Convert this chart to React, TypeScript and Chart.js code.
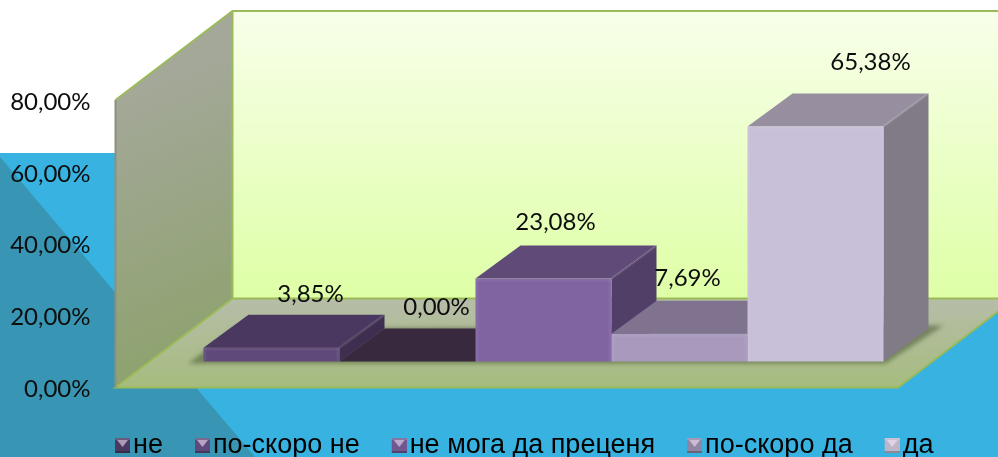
import React, { useEffect, useRef } from "react";
import { Chart, registerables } from "chart.js";

Chart.register(...registerables);

const categories = [""];
const seriesNames = ["не", "по-скоро не", "не мога да преценя", "по-скоро да", "да"];
const seriesValues = [3.85, 0, 23.08, 7.69, 65.38];
const yTicks = [0, 20, 40, 60, 80];
const frontColors = ["#5F497A", "#3F3151", "#8064A2", "#A899BD", "#C8BFD8"];
const topColors = ["#4A3860", "#39293F", "#5F4A78", "#7F7390", "#978F9F"];
const sideColors = ["#3E2E50", "#33253F", "#523F68", "#6F6580", "#817A87"];
const markerColors = ["#4A3860", "#5F497A", "#70578F", "#8F85A3", "#BDB5C8"];
const labelShiftX = [39, 29, 12, 8, 55];
const labelShiftY = [-53, -54, -56, -56, -64];

const fmt = (v: number) => v.toFixed(2).replace(".", ",") + "%";

const WALL_DX = 117, WALL_DY = -89;
const BAR_SHIFT_X = 36.75, BAR_SHIFT_Y = -26;
const DEPTH_X = 45, DEPTH_Y = -33;
const LINE = "#9BBB59";
const FONT_TXT = "Lato";
const LEGEND_SHIFT = 70;

function poly(ctx: CanvasRenderingContext2D, pts: number[][], fill?: any, stroke?: string, lw = 1) {
  ctx.beginPath();
  pts.forEach((p, i) => (i ? ctx.lineTo(p[0], p[1]) : ctx.moveTo(p[0], p[1])));
  ctx.closePath();
  if (fill) { ctx.fillStyle = fill; ctx.fill(); }
  if (stroke) { ctx.strokeStyle = stroke; ctx.lineWidth = lw; ctx.stroke(); }
}

function makeMarker(color: string) {
  const W = 36, S = 15;
  const c = document.createElement("canvas");
  c.width = W; c.height = S;
  const g = c.getContext("2d")!;
  const x0 = W - S;
  g.fillStyle = color;
  g.fillRect(x0, 0, S, S);
  g.fillStyle = "rgba(255,255,255,0.18)";
  g.fillRect(x0, 0, S, 2);
  g.fillStyle = "rgba(0,0,0,0.25)";
  g.fillRect(x0, S - 2, S, 2);
  g.beginPath();
  g.moveTo(x0 + 2, 2); g.lineTo(x0 + S - 2, 2); g.lineTo(x0 + S / 2, 9); g.closePath();
  g.fillStyle = "rgba(255,235,255,0.55)";
  g.fill();
  return c;
}

const scenePlugin = {
  id: "scene",
  afterLayout(chart: any) {
    chart.legend.left += LEGEND_SHIFT;
    chart.legend.right += LEGEND_SHIFT;
  },
  beforeDraw(chart: any) {
    const { ctx, width, height, chartArea: a } = chart;
    ctx.save();
    ctx.fillStyle = "#FFFFFF";
    ctx.fillRect(0, 0, width, height);
    ctx.fillStyle = "#38B2E0";
    ctx.fillRect(0, 153, width, height - 153);
    poly(ctx, [[0, 157], [255, 457], [0, 457]], "#3895B3");

    const L = a.left, R = a.right, T = a.top, B = a.bottom;
    const lw = ctx.createLinearGradient(L, T, L + WALL_DX, B);
    lw.addColorStop(0, "#A3A898");
    lw.addColorStop(1, "#8BA168");
    poly(ctx, [[L, T], [L + WALL_DX, T + WALL_DY], [L + WALL_DX, B + WALL_DY], [L, B]], lw);

    const bw = ctx.createLinearGradient(0, T + WALL_DY, 0, B + WALL_DY);
    bw.addColorStop(0, "#F8FFEA");
    bw.addColorStop(1, "#DEFFA6");
    poly(ctx, [[L + WALL_DX, T + WALL_DY], [R + WALL_DX, T + WALL_DY], [R + WALL_DX, B + WALL_DY], [L + WALL_DX, B + WALL_DY]], bw);

    const fl = ctx.createLinearGradient(0, B + WALL_DY, 0, B);
    fl.addColorStop(0, "#B6BDA8");
    fl.addColorStop(1, "#A6BC7E");
    poly(ctx, [[L, B], [L + WALL_DX, B + WALL_DY], [R + WALL_DX, B + WALL_DY], [R, B]], fl);

    ctx.strokeStyle = LINE;
    ctx.lineWidth = 2;
    ctx.beginPath();
    ctx.moveTo(L, T); ctx.lineTo(L + WALL_DX, T + WALL_DY); ctx.lineTo(R + WALL_DX, T + WALL_DY);
    ctx.moveTo(L + WALL_DX, T + WALL_DY); ctx.lineTo(L + WALL_DX, B + WALL_DY); ctx.lineTo(R + WALL_DX, B + WALL_DY);
    ctx.moveTo(L + WALL_DX, B + WALL_DY); ctx.lineTo(L, B); ctx.lineTo(R, B); ctx.lineTo(R + WALL_DX, B + WALL_DY);
    ctx.stroke();
    ctx.strokeStyle = "#8C917F";
    ctx.beginPath();
    ctx.moveTo(L, T); ctx.lineTo(L, B);
    ctx.stroke();
    ctx.restore();
  },
  beforeDatasetsDraw(chart: any) {
    const { ctx } = chart;
    const bars = seriesValues.map((_, i) => chart.getDatasetMeta(i).data[0]);
    ctx.save();
    ctx.translate(BAR_SHIFT_X, BAR_SHIFT_Y);

    // soft floor shadow under the whole row of bars
    const first = bars[0], last = bars[bars.length - 1];
    const bl = first.x - first.width / 2, br = last.x + last.width / 2, by = first.base;
    ctx.save();
    ctx.filter = "blur(2px)";
    poly(ctx, [[bl - 15, by + 2], [br + 2, by + 2], [br + DEPTH_X + 15, by + DEPTH_Y - 3], [br + DEPTH_X, by + DEPTH_Y - 3], [bl + DEPTH_X - 15, by + DEPTH_Y]], "rgba(70,85,50,0.55)");
    ctx.restore();

    bars.forEach((bar: any, i: number) => {
      const l = bar.x - bar.width / 2, r = bar.x + bar.width / 2, t = bar.y, b = bar.base;
      poly(ctx, [[r, b], [r + DEPTH_X, b + DEPTH_Y], [r + DEPTH_X, t + DEPTH_Y], [r, t]], sideColors[i]);
      poly(ctx, [[l, t], [l + DEPTH_X, t + DEPTH_Y], [r + DEPTH_X, t + DEPTH_Y], [r, t]], topColors[i]);
      if (b - t > 2) {
        ctx.strokeStyle = "rgba(255,255,255,0.08)";
        ctx.lineWidth = 3;
        ctx.beginPath();
        ctx.moveTo(r, t); ctx.lineTo(r + DEPTH_X - 1, t + DEPTH_Y + 1);
        ctx.stroke();
      }
      bar.draw(ctx);
      if (b - t > 2) {
        ctx.fillStyle = "rgba(255,255,255,0.05)";
        ctx.fillRect(l, t, r - l, 3);
        ctx.fillRect(l, t, 3, b - t);
        ctx.fillRect(r - 3, t, 3, b - t);
      }
    });
    ctx.restore();

    ctx.save();
    ctx.fillStyle = "#0D0D0D";
    ctx.font = `24px ${FONT_TXT}`;
    ctx.textAlign = "center";
    ctx.textBaseline = "middle";
    bars.forEach((bar: any, i: number) => {
      const x = bar.x + BAR_SHIFT_X + labelShiftX[i];
      const y = bar.y + BAR_SHIFT_Y + labelShiftY[i];
      ctx.fillText(fmt(seriesValues[i]), x, y);
    });
    ctx.restore();
    return false;
  },
};

export default function App() {
  const ref = useRef<HTMLCanvasElement>(null);
  useEffect(() => {
    const chart = new Chart(ref.current!, {
      type: "bar",
      data: {
        labels: categories,
        datasets: seriesNames.map((name, i) => ({
          label: name,
          data: [seriesValues[i]],
          backgroundColor: frontColors[i],
          borderWidth: 0,
          categoryPercentage: 0.869,
          barPercentage: 1,
        })),
      },
      options: {
        animation: false,
        responsive: false,
        layout: { padding: { left: 0, right: 100, top: 100, bottom: -12 } },
        scales: {
          x: {
            grid: { display: false },
            border: { display: false },
            ticks: { display: false },
            afterFit: (s: any) => { s.height = 23; },
          },
          y: {
            min: 0,
            max: 80,
            afterBuildTicks: (s: any) => { s.ticks = yTicks.map((value) => ({ value })); },
            grid: { display: false },
            border: { display: false },
            ticks: {
              padding: 17,
              labelOffset: 2,
              color: "#0D0D0D",
              font: { family: FONT_TXT, size: 24 },
              callback: (v: any) => fmt(Number(v)),
            },
            afterFit: (s: any) => { s.width = 115.5; },
          },
        },
        plugins: {
          tooltip: { enabled: false },
          legend: {
            position: "bottom",
            labels: {
              usePointStyle: true,
              boxWidth: 15,
              boxHeight: 15,
              padding: 21.5,
              color: "#0D0D0D",
              font: { family: "Liberation Sans", size: 27 },
              generateLabels: (c: any) =>
                c.data.datasets.map((d: any, i: number) => ({
                  text: d.label,
                  fillStyle: markerColors[i],
                  strokeStyle: markerColors[i],
                  lineWidth: 0,
                  pointStyle: makeMarker(markerColors[i]),
                  datasetIndex: i,
                })),
            },
          },
        },
      } as any,
      plugins: [scenePlugin],
    });
    return () => chart.destroy();
  }, []);
  return (
    <div style={{ position: "absolute", left: 0, top: 0, width: 998, height: 457, overflow: "hidden" }}>
      <canvas ref={ref} width={998} height={457} style={{ display: "block" }} />
    </div>
  );
}
